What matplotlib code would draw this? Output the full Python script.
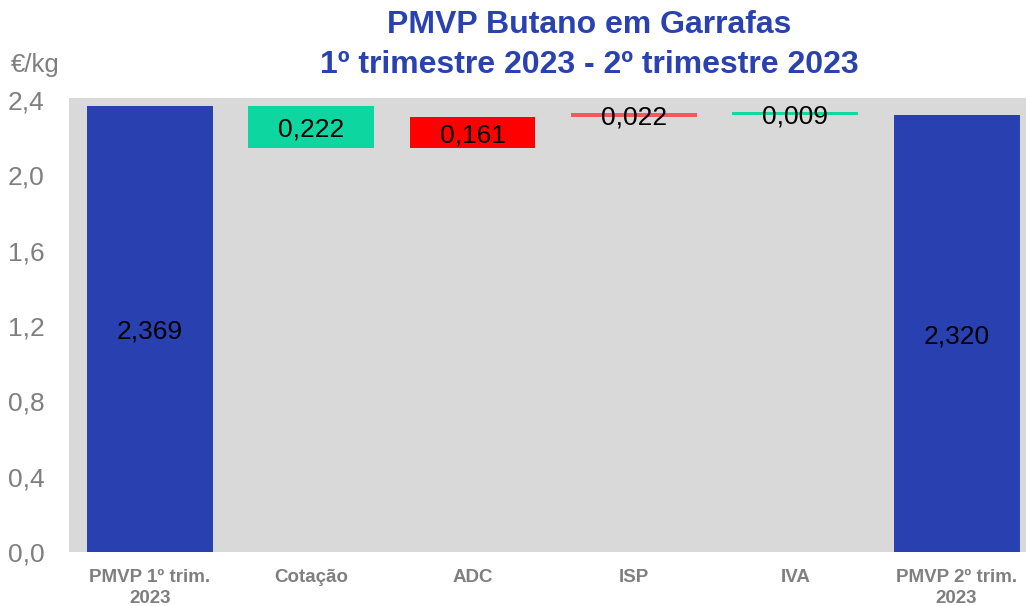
import numpy as np
import matplotlib
matplotlib.use("Agg")
import matplotlib.pyplot as plt

categories = ["PMVP 1º trim.\n2023", "Cotação", "ADC", "ISP", "IVA", "PMVP 2º trim.\n2023"]
start_value = 2.369
end_value = 2.320
changes = [-0.222, 0.161, 0.022, -0.009]
change_labels = ["0,222", "0,161", "0,022", "0,009"]
change_colors = ["#0DD6A0", "#FF0000", "#F45A55", "#10D9A0"]
total_color = "#2840B0"

plt.rcParams["font.family"] = ["Liberation Sans", "DejaVu Sans"]

fig = plt.figure(figsize=(10.26, 6.06), dpi=100)
ax = fig.add_axes([0.0673, 0.0891, 0.9327, 0.7492])
ax.set_facecolor("#D9D9D9")

x = np.arange(len(categories))
w = 0.78


def label(xv, yv, txt):
    # labels sit a touch below the bar centre, like the source
    ax.annotate(txt, (xv, yv), xytext=(0, -2), textcoords="offset points",
                ha="center", va="center", fontsize=19, color="black", zorder=3)


# totals
ax.bar(x[0], start_value, width=w, color=total_color, zorder=2)
ax.bar(x[-1], end_value, width=w, color=total_color, zorder=2)
label(x[0], start_value / 2, "2,369")
label(x[-1], end_value / 2, "2,320")

# floating changes
level = start_value
for i, (d, lab, col) in enumerate(zip(changes, change_labels, change_colors)):
    xi = x[i + 1]
    lo, hi = min(level, level + d), max(level, level + d)
    h = max(hi - lo, 0.016)
    ax.bar(xi, h, bottom=(lo + hi) / 2 - h / 2, width=w, color=col, zorder=2)
    label(xi, (lo + hi) / 2, lab)
    level += d

ax.set_xlim(-0.5, 5.43)
ax.set_ylim(0, 2.41)
yt = np.arange(0, 2.41, 0.4)
ax.set_yticks(yt)
ax.set_yticklabels([f"{v:.1f}".replace(".", ",") for v in yt], ha="left")
ax.set_xticks(x)
ax.set_xticklabels(categories, fontsize=13.5, fontweight="bold", color="#7F7F7F",
                   linespacing=1.3)
ax.tick_params(axis="y", labelsize=19, colors="#7F7F7F", length=0, pad=44)
ax.tick_params(axis="x", length=0, pad=12)
for s in ax.spines.values():
    s.set_visible(False)

fig.text(0.0105, 0.893, "€/kg", fontsize=18.5, color="#7F7F7F", ha="left", va="center")
fig.text(0.5745, 0.9255, "PMVP Butano em Garrafas\n1º trimestre 2023 - 2º trimestre 2023",
         ha="center", va="center", fontsize=23, fontweight="bold", color="#2A41B0",
         linespacing=1.45)

fig.savefig("out.png", dpi=100)
